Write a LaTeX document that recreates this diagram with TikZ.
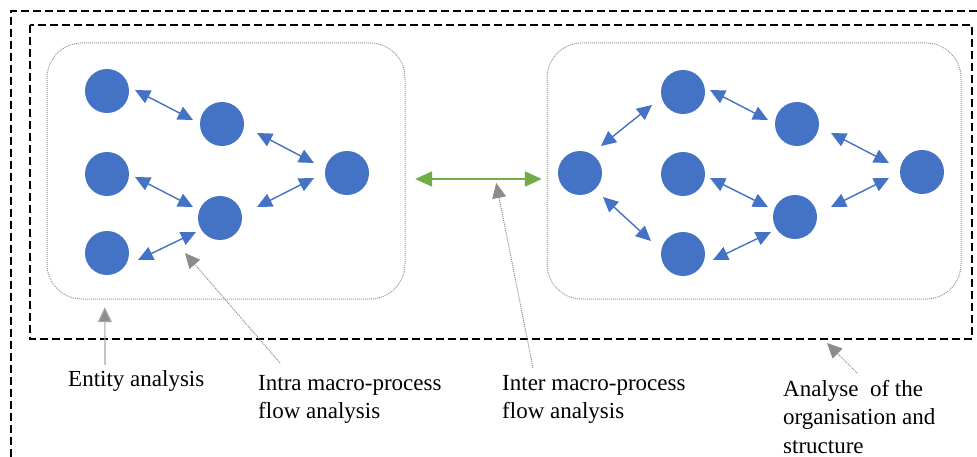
\documentclass[tikz,border=0pt]{standalone}
\usepackage{fontspec}
\setmainfont{Liberation Serif}
\usetikzlibrary{arrows.meta,calc}
\definecolor{nodeblue}{HTML}{4472C4}
\definecolor{flowgreen}{HTML}{70AD47}
\definecolor{annogray}{HTML}{8C8C8C}
\definecolor{linegray}{HTML}{A6A6A6}
\tikzset{
  ent/.style={circle,fill=nodeblue,draw=none,minimum size=44pt,inner sep=0pt},
  flow/.style={draw=nodeblue,line width=1.4pt,
    {Triangle[length=15pt,width=14pt]}-{Triangle[length=15pt,width=14pt]}},
  dashbox/.style={draw=black,line width=1.3pt,dash pattern=on 8pt off 4pt},
  procbox/.style={draw=gray!80,line width=1pt,densely dotted,rounded corners=35pt},
  lbl/.style={inner sep=0pt,align=left,font=\fontsize{23}{28.5}\selectfont},
  annhead/.style={-{Triangle[length=15pt,width=14pt,fill=annogray]}},
}
\begin{document}
\begin{tikzpicture}[x=1pt,y=-1pt]
\useasboundingbox (0,0) rectangle (977,457);
\fill[white] (0,0) rectangle (977,457);
% outer and inner dashed frames
\draw[dashbox] (977,11) -- (11,11) -- (11,457);
\coordinate (inNW) at (30,25);
\coordinate (inSE) at (972,339);
\draw[dashbox] (inNW) rectangle (inSE);
% macro-process boxes
\draw[procbox] (47,43) rectangle (405,299);
\node[inner sep=0pt,minimum width=358pt,minimum height=256pt] (Lbox) at (226,171) {};
\draw[procbox] (547,43) rectangle (961,299);
\node[inner sep=0pt,minimum width=414pt,minimum height=256pt] (Rbox) at (754,171) {};
% left entities
\node[ent] (A1) at (107,91) {};
\node[ent] (A2) at (107,174) {};
\node[ent] (A3) at (107,253) {};
\node[ent] (B1) at (222,124) {};
\node[ent] (B2) at (220,218) {};
\node[ent] (C)  at (347,173) {};
% right entities
\node[ent] (D)  at (580,173) {};
\node[ent] (E1) at (683,92) {};
\node[ent] (E2) at (683,174) {};
\node[ent] (E3) at (683,254) {};
\node[ent] (F1) at (797,124) {};
\node[ent] (F2) at (795,217) {};
\node[ent] (G)  at (922,172) {};
% left flows
\draw[flow] ($(A1)+(28,-1)$) -- ($(B1)+(-29,-4)$);
\draw[flow] ($(B1)+(35,9)$) -- ($(C)+(-33,-10)$);
\draw[flow] ($(A2)+(28,3)$) -- ($(B2)+(-27,-11)$);
\draw[flow] ($(C)+(-33,5)$) -- ($(B2)+(37,-11)$);
\draw[flow] ($(B2)+(-24,14)$) -- ($(A3)+(31,7)$);
% right flows
\draw[flow] ($(D)+(21,-27)$) -- ($(E1)+(-31,13)$);
\draw[flow] ($(E1)+(27,-2)$) -- ($(F1)+(-29,-4)$);
\draw[flow] ($(F1)+(34,9)$) -- ($(G)+(-33,-9)$);
\draw[flow] ($(E2)+(27,4)$) -- ($(F2)+(-27,-10)$);
\draw[flow] ($(G)+(-33,6)$) -- ($(F2)+(36,-10)$);
\draw[flow] ($(F2)+(-24,15)$) -- ($(E3)+(30,6)$);
\draw[flow] ($(D)+(23,24)$) -- ($(E3)+(-32,-13)$);
% inter flow
\draw[draw=flowgreen,line width=2pt,
  {Triangle[length=17pt,width=15pt]}-{Triangle[length=17pt,width=15pt]}]
  ($(Lbox.east)+(10,8)$) -- coordinate[pos=0.64] (mid) ($(Rbox.west)+(-5,8)$);
% labels
\node[lbl,anchor=base west] (entl) at (68,386) {Entity analysis};
\node[lbl,anchor=north west] (intra) at (258,375) {Intra macro-process\\flow analysis};
\node[lbl,anchor=north west] (inter) at (502,375) {Inter macro-process\\flow analysis};
\node[lbl,anchor=north west] (orga) at (783,380) {Analyse\ \ of the\\organisation and\\structure};
% annotation arrows
\draw[draw=linegray,line width=1.2pt,annhead] ([shift={(37,-5)}]entl.north west) -- ($(Lbox.south west)+(58,8)$);
\draw[draw=annogray,line width=1pt,densely dotted,annhead] ([shift={(22,-12)}]intra.north west) -- ($(B2)+(-35,35)$);
\draw[draw=annogray,line width=1pt,densely dotted,annhead] ([shift={(31,-7)}]inter.north west) -- ([yshift=-4pt]mid);
\draw[draw=annogray,line width=1pt,densely dotted,annhead] ([shift={(74,-7)}]orga.north west) -- ($(inSE)+(-145,4)$);
\end{tikzpicture}
\end{document}
